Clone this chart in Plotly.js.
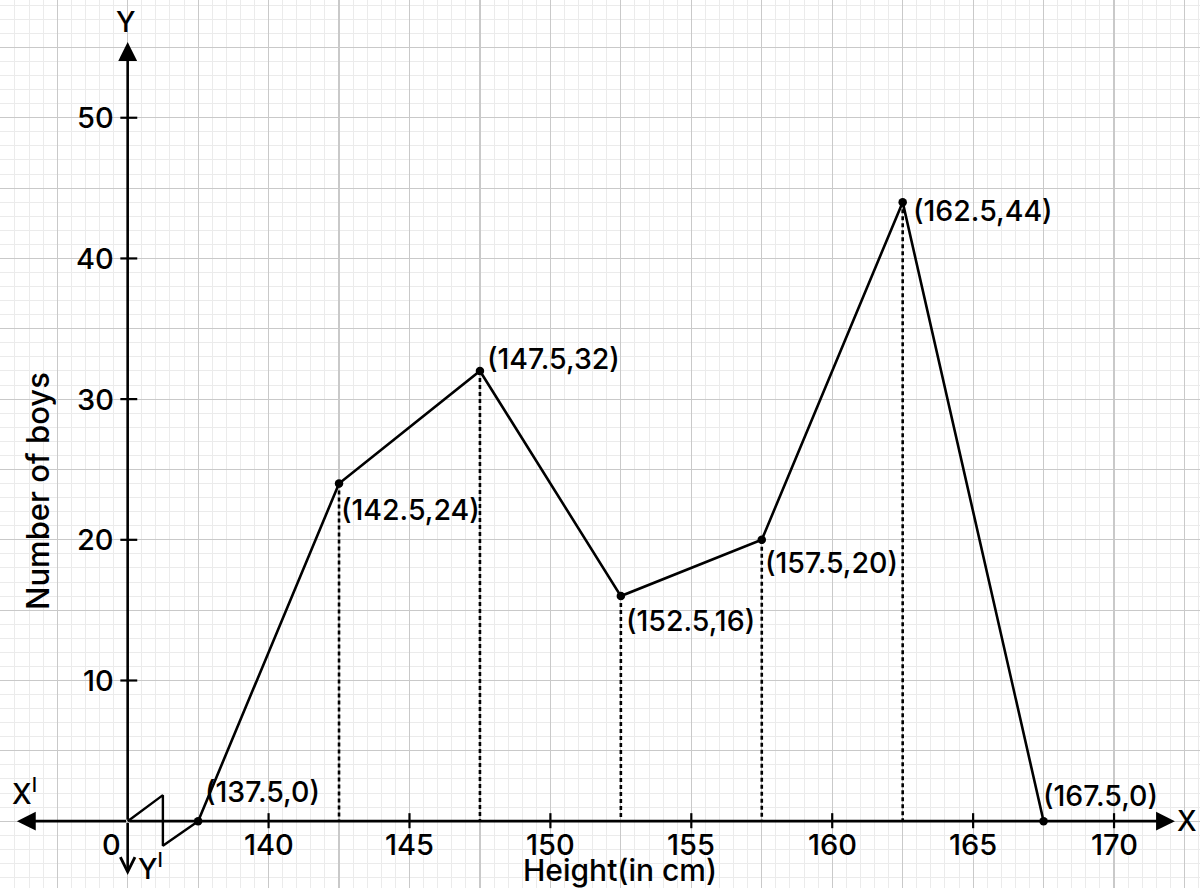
<!DOCTYPE html>
<html>
<head>
<meta charset="utf-8">
<script src="https://cdn.plot.ly/plotly-3.0.1.min.js"></script>
<style>html,body{margin:0;padding:0;background:#fff;}#chart{width:1200px;height:888px;}</style>
</head>
<body>
<div id="chart"></div>
<script>
// ---- data ----
const heights = [137.5, 142.5, 147.5, 152.5, 157.5, 162.5, 167.5];
const boys = [0, 24, 32, 16, 20, 44, 0];
const xTickVals = [140, 145, 150, 155, 160, 165, 170];
const yTickVals = [10, 20, 30, 40, 50];
const originX = 135;               // the point drawn as "0" on the broken x axis
const breakX = [135, 136.25, 136.25, 137.5];   // kink (axis break) shape
const breakY = [0, 1.85, -1.75, 0];

// ---- styles / placement (pixel offsets) ----
const labelShiftX = [5, 0, 5, 3, 1, 8, -3];
const labelShiftY = [30, -26, 12, -24, -23, -8, 26];
const FONT = 'Inter, "Open Sans", sans-serif';
const WEIGHT = 500;
const xRange = [130.47, 173.05];
const yRange = [-4.75, 58.37];

const traces = [];
// dotted verticals from inner points to the x axis
const dx = [], dy = [];
heights.forEach((h, i) => {
  if (boys[i] > 0) { dx.push(h, h, null); dy.push(boys[i], 0, null); }
});
traces.push({x: dx, y: dy, mode: 'lines', line: {color: '#000', width: 2.6, dash: '4px,3px'}, hoverinfo: 'skip', showlegend: false});
// axis break kink
traces.push({x: breakX, y: breakY, mode: 'lines', line: {color: '#000', width: 2.4}, hoverinfo: 'skip', showlegend: false});
// frequency polygon
traces.push({x: heights, y: boys, mode: 'lines+markers', line: {color: '#000', width: 2.6},
  marker: {color: '#000', size: 8.5}, showlegend: false});

const annotations = [];
const tf = (s) => ({family: FONT, size: s, color: '#000', weight: WEIGHT});
// point labels
heights.forEach((h, i) => {
  annotations.push({x: h, y: boys[i], xref: 'x', yref: 'y', text: '(' + h + ',' + boys[i] + ')',
    showarrow: false, xanchor: 'left', yanchor: 'middle', xshift: labelShiftX[i], yshift: labelShiftY[i],
    font: tf(28.5)});
});
// x tick labels
xTickVals.forEach(v => annotations.push({x: v, y: 0, xref: 'x', yref: 'y', text: String(v), showarrow: false,
  xanchor: 'center', yanchor: 'middle', yshift: -23, font: tf(29)}));
// y tick labels
yTickVals.forEach(v => annotations.push({x: originX, y: v, xref: 'x', yref: 'y', text: String(v), showarrow: false,
  xanchor: 'right', yanchor: 'middle', xshift: -12, font: tf(29)}));
// origin label
annotations.push({x: originX, y: 0, xref: 'x', yref: 'y', text: '0', showarrow: false, xanchor: 'center',
  yanchor: 'middle', xshift: -16, yshift: -23, font: tf(29)});
// axes with arrows
const axTips = [[172.16, 0, 2], [131.07, 0, 2], [originX, 55.38, 2], [originX, -3.82, 5]];
axTips.forEach(t => annotations.push({x: t[0], y: t[1], ax: originX, ay: 0, xref: 'x', yref: 'y', axref: 'x', ayref: 'y',
  text: '', showarrow: true, arrowhead: t[2], arrowsize: t[2] === 5 ? 1.1 : 1.45, arrowwidth: 2.6, arrowcolor: '#000', standoff: 0, startstandoff: 0}));
// axis names
const axNames = [
  {x: 172.16, y: 0, text: 'X', xshift: 0, yshift: 0, xa: 'left'},
  {x: 131.07, y: 0, text: 'X<sup>I</sup>', xshift: -7, yshift: 29, xa: 'left'},
  {x: originX, y: 55.38, text: 'Y', xshift: -2, yshift: 20, xa: 'center'},
  {x: originX, y: -3.82, text: 'Y<sup>I</sup>', xshift: 8, yshift: 8, xa: 'left'}
];
axNames.forEach(a => annotations.push({x: a.x, y: a.y, xref: 'x', yref: 'y', text: a.text, showarrow: false,
  xanchor: a.xa, yanchor: 'middle', xshift: a.xshift, yshift: a.yshift, font: tf(28)}));
// axis titles
annotations.push({x: 620 / 1200, y: 1 - 870 / 888, xref: 'paper', yref: 'paper', text: 'Height(in cm)', showarrow: false,
  xanchor: 'center', yanchor: 'middle', font: tf(30)});
annotations.push({x: 38 / 1200, y: 1 - 491 / 888, xref: 'paper', yref: 'paper', text: 'Number of boys', showarrow: false,
  textangle: -90, xanchor: 'center', yanchor: 'middle', font: tf(31)});

// tick marks crossing the axes
const shapes = [];
xTickVals.forEach(v => shapes.push({type: 'line', xref: 'x', yref: 'y', x0: v, x1: v, y0: -0.5, y1: 0.57,
  line: {color: '#000', width: 2.2}}));
yTickVals.forEach(v => shapes.push({type: 'line', xref: 'x', yref: 'y', x0: originX - 0.26, x1: originX + 0.34, y0: v, y1: v,
  line: {color: '#000', width: 2.2}}));

const layout = {
  width: 1200, height: 888,
  margin: {l: 0, r: 0, t: 0, b: 0},
  paper_bgcolor: '#fff', plot_bgcolor: '#fff',
  showlegend: false,
  xaxis: {range: xRange, tick0: 0, dtick: 2.5, showgrid: true, gridcolor: '#c9c9c9', gridwidth: 1.2,
    minor: {dtick: 0.5, showgrid: true, gridcolor: '#ebebeb', gridwidth: 1},
    showticklabels: false, ticks: '', zeroline: false, showline: false, fixedrange: true},
  yaxis: {range: yRange, tick0: 0, dtick: 5, showgrid: true, gridcolor: '#c9c9c9', gridwidth: 1.2,
    minor: {dtick: 1, showgrid: true, gridcolor: '#ebebeb', gridwidth: 1},
    showticklabels: false, ticks: '', zeroline: false, showline: false, fixedrange: true},
  annotations: annotations,
  shapes: shapes
};

Plotly.newPlot('chart', traces, layout, {displayModeBar: false, staticPlot: true});
</script>
</body>
</html>
